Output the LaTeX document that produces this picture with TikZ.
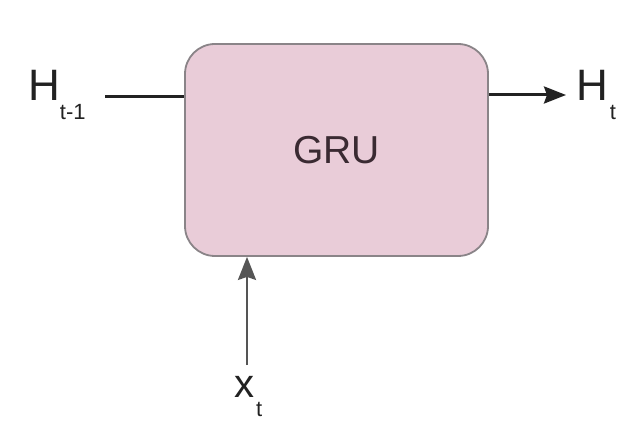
\documentclass[tikz,border=0pt]{standalone}
\usepackage{fontspec}
\setmainfont{Liberation Sans}
\usetikzlibrary{arrows.meta}
\definecolor{boxfill}{HTML}{E9CCD8}
\definecolor{boxdraw}{HTML}{8A8488}
\definecolor{txt}{HTML}{222222}
\definecolor{gru}{HTML}{3A2A32}
\definecolor{upc}{HTML}{555555}
\newcommand{\subfnt}{\fontsize{22}{22}\selectfont}
\tikzset{
  lbl/.style={inner sep=0pt, text=txt, font=\fontsize{44}{44}\selectfont},
  wire/.style={line width=3pt, draw=txt},
}
\begin{document}
\begin{tikzpicture}[x=1pt,y=-1pt]
\useasboundingbox (0,0) rectangle (634,438);
\fill[white] (0,0) rectangle (634,438);
\node[draw=boxdraw, fill=boxfill, line width=1.8pt, rounded corners=30pt,
  minimum width=303pt, minimum height=212pt, inner sep=0pt,
  font=\fontsize{39}{39}\selectfont, text=gru] (gru) at (336.5,150) {GRU};
\node[lbl, anchor=base west] (hprev) at (28,101) {H\raisebox{-19pt}{\subfnt t-1}};
\node[lbl, anchor=base west] (hcur) at (576,101) {H\raisebox{-19pt}{\hspace{2pt}\subfnt t}};
\node[lbl, anchor=base west, font=\fontsize{40}{40}\selectfont] (xt) at (234,397) {x\raisebox{-19pt}{\hspace{2pt}\subfnt t}};
\coordinate (lstart) at (105,97);
\coordinate (uin) at (247,365);
\draw[wire] (lstart) -- (lstart -| gru.west);
\draw[wire, -{Stealth[length=22pt,width=17pt,inset=3pt]}] (gru.east |- 0,95) -- (566,95);
\draw[line width=2.6pt, draw=upc, -{Stealth[length=23pt,width=18pt,inset=3pt]}] (uin) -- (uin |- gru.south);
\end{tikzpicture}
\end{document}
